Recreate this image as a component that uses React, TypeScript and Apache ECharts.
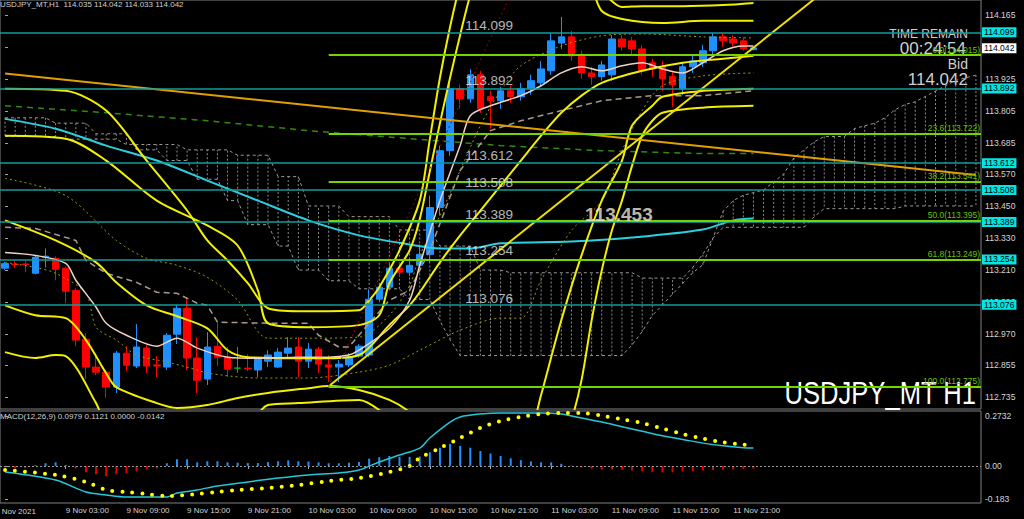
import React, { useEffect, useRef } from 'react';
import * as echarts from 'echarts';

const FONT = '"Liberation Sans", Arial, sans-serif';
const N = 97;

// ---- categories (hourly bars, starting 8 Nov 21:00) ----
const categories: string[] = [];
for (let i = 0; i < N; i++) {
  const t = 21 + i;
  const day = 8 + Math.floor(t / 24);
  const h = t % 24;
  categories.push(`${day} Nov ${String(h).padStart(2, '0')}:00`);
}
const firstLabel = '8 Nov 2021';

// ---- price axis ticks ----
const yTicks = [114.165, 114.045, 113.925, 113.805, 113.685, 113.57, 113.45, 113.33, 113.21, 113.09, 112.97, 112.855, 112.735];
const macdTicks = [0.2732, 0, -0.183];
const macdTickLabels = ['0.2732', '0.00', '-0.183'];

// ---- candles ----
const opens = [113.217, 113.232, 113.233, 113.198, 113.258, 113.254, 113.217, 113.134, 112.951, 112.847, 112.828, 112.772, 112.899, 112.851, 112.918, 112.855, 112.847, 112.970, 113.067, 112.881, 112.802, 112.925, 112.884, 112.843, 112.843, 112.836, 112.869, 112.847, 112.899, 112.922, 112.869, 112.914, 112.855, 112.847, 112.855, 112.888, 112.892, 113.101, 113.146, 113.217, 113.202, 113.228, 113.269, 113.444, 113.657, 113.889, 113.851, 113.941, 113.859, 113.844, 113.881, 113.859, 113.889, 113.911, 113.956, 114.060, 114.083, 114.012, 113.948, 113.934, 113.941, 114.075, 114.068, 114.038, 113.986, 113.971, 113.934, 113.889, 113.971, 113.986, 114.031, 114.083, 114.075, 114.068, 114.035];
const closes = [113.235, 113.230, 113.231, 113.258, 113.262, 113.213, 113.131, 112.948, 112.847, 112.828, 112.772, 112.899, 112.854, 112.922, 112.851, 112.851, 112.966, 113.067, 112.881, 112.798, 112.922, 112.884, 112.839, 112.843, 112.840, 112.877, 112.892, 112.903, 112.918, 112.869, 112.914, 112.858, 112.847, 112.858, 112.884, 112.925, 113.101, 113.146, 113.217, 113.202, 113.228, 113.269, 113.444, 113.657, 113.889, 113.851, 113.941, 113.814, 113.844, 113.881, 113.859, 113.889, 113.919, 113.963, 114.068, 114.083, 114.012, 113.948, 113.934, 113.978, 114.075, 114.046, 114.038, 113.956, 113.963, 113.926, 113.904, 113.971, 113.993, 114.031, 114.083, 114.068, 114.060, 114.038, 114.042];
const highs = [113.240, 113.246, 113.246, 113.265, 113.291, 113.261, 113.224, 113.142, 112.974, 112.888, 112.836, 112.907, 112.925, 113.008, 112.929, 112.888, 112.974, 113.078, 113.108, 112.959, 112.978, 113.011, 112.922, 112.922, 112.895, 112.884, 112.910, 112.918, 112.959, 112.959, 112.937, 112.922, 112.892, 112.873, 112.899, 112.933, 113.138, 113.161, 113.239, 113.239, 113.254, 113.306, 113.489, 113.676, 113.919, 113.904, 113.963, 113.956, 113.881, 113.896, 113.900, 113.911, 113.941, 113.993, 114.098, 114.158, 114.105, 114.031, 113.971, 113.993, 114.090, 114.090, 114.083, 114.053, 114.001, 113.993, 113.956, 113.986, 114.016, 114.053, 114.098, 114.098, 114.090, 114.083, 114.042];
const lows = [113.210, 113.217, 113.202, 113.194, 113.220, 113.172, 113.086, 112.925, 112.802, 112.817, 112.731, 112.750, 112.832, 112.843, 112.825, 112.810, 112.836, 112.933, 112.836, 112.750, 112.780, 112.851, 112.810, 112.825, 112.832, 112.810, 112.847, 112.843, 112.881, 112.810, 112.843, 112.825, 112.791, 112.791, 112.847, 112.881, 112.884, 113.090, 113.134, 113.187, 113.187, 113.217, 113.239, 113.414, 113.638, 113.814, 113.836, 113.799, 113.739, 113.814, 113.836, 113.844, 113.866, 113.896, 113.941, 114.038, 113.993, 113.926, 113.904, 113.919, 113.919, 114.031, 114.016, 113.941, 113.934, 113.881, 113.821, 113.866, 113.948, 113.971, 114.016, 114.046, 114.046, 114.031, 114.033];
const greenDoji = [23];

// ---- horizontal levels ----
const tealLevels = [114.099, 113.892, 113.612, 113.508, 113.389, 113.254, 113.076];
const fibValues = [114.015, 113.722, 113.541, 113.395, 113.249, 112.775];
const fibLabels = ['0.0(114.015)', '23.6(113.722)', '38.2(113.541)', '50.0(113.395)', '61.8(113.249)', '100.0(112.775)'];
const fibStart = 32;
const bidPrice = 114.042;
const markedPrice = 113.453;

// ---- indicator lines: [bar index, price] ----
const bbMid = [[0,113.396],[5,113.321],[9,113.239],[11,113.164],[14,113.078],[17,113.037],[20,112.992],[22,112.910],[24,112.884],[29,112.880],[32,112.880],[35,112.892],[38,113.004],[40,113.078],[41,113.127],[43,113.239],[45,113.340],[47,113.433],[49,113.526],[51,113.620],[53,113.713],[55,113.799],[57,113.863],[59,113.911],[63,113.956],[67,113.986],[71,114.001],[74,114.012]];
const bbUp2 = [[0,113.713],[6,113.702],[10,113.620],[15,113.470],[20,113.377],[23,113.302],[25,113.134],[26,113.011],[30,112.996],[35,113.004],[37,113.041],[38,113.161],[40,113.284],[41,113.40],[42,113.58],[43,113.76],[44,113.93],[45,114.09],[46,114.24],[47,114.35],[52,114.45],[57,114.33],[58,114.27],[59,114.18],[61,114.150],[65,114.135],[69,114.143],[74,114.143]];
const bbUp3 = [[0,113.889],[6,113.881],[10,113.807],[14,113.620],[18,113.433],[20,113.321],[22,113.246],[24,113.161],[26,113.067],[29,113.056],[35,113.060],[36,113.097],[37,113.146],[39,113.284],[41,113.47],[42,113.70],[43,113.93],[44,114.12],[45,114.28],[46,114.40],[52,114.50],[58,114.35],[59,114.26],[60,114.217],[61,114.195],[63,114.198],[67,114.198],[71,114.202],[74,114.210]];
const bbLow2 = [[0,113.078],[3,113.041],[6,113.030],[8,112.948],[10,112.824],[11,112.772],[15,112.712],[17,112.694],[20,112.705],[23,112.731],[26,112.750],[30,112.768],[32,112.776],[35,112.761],[38,112.724],[40,112.679],[42,112.611],[46,112.50],[50,112.50],[52,112.611],[53,112.742],[55,113.022],[57,113.265],[59,113.470],[61,113.620],[62,113.751],[64,113.825],[65,113.859],[69,113.881],[74,113.889]];
const bbLow3 = [[0,112.903],[3,112.881],[5,112.892],[6,112.888],[9,112.712],[10,112.630],[12,112.58],[20,112.58],[24,112.630],[26,112.705],[29,112.712],[35,112.724],[37,112.686],[39,112.611],[45,112.45],[54,112.45],[56,112.649],[57,112.798],[58,113.022],[59,113.209],[60,113.358],[61,113.470],[62,113.601],[63,113.713],[64,113.769],[65,113.799],[69,113.818],[74,113.825]];
const bbUp1 = [[0,113.553],[6,113.489],[11,113.321],[14,113.254],[17,113.228],[20,113.183],[23,113.097],[26,112.955],[30,112.955],[35,112.959],[38,113.041],[40,113.153],[41,113.265],[43,113.414],[45,113.583],[47,113.751],[49,113.881],[51,113.975],[55,114.049],[59,114.087],[63,114.094],[69,114.083],[74,114.079]];
const bbLow1 = [[0,113.239],[3,113.220],[5,113.198],[8,113.123],[9,112.996],[11,112.948],[13,112.892],[16,112.866],[19,112.836],[20,112.824],[25,112.806],[30,112.806],[35,112.828],[38,112.854],[41,112.910],[45,112.985],[49,113.030],[51,113.030],[53,113.172],[56,113.358],[59,113.470],[61,113.657],[63,113.807],[65,113.900],[69,113.937],[74,113.948]];
const maFast = [[0,113.276],[3,113.265],[6,113.235],[7,113.172],[9,113.071],[10,113.011],[12,112.966],[15,112.925],[17,112.955],[19,112.918],[22,112.884],[25,112.880],[29,112.884],[32,112.884],[34,112.892],[35,112.910],[38,112.992],[40,113.097],[41,113.228],[43,113.470],[45,113.676],[46,113.788],[48,113.825],[51,113.863],[53,113.900],[55,113.948],[57,113.971],[59,113.956],[61,113.975],[63,113.986],[65,113.963],[67,113.948],[69,113.986],[71,114.031],[73,114.049],[74,114.049]];
const maSlow = [[0,113.776],[5,113.739],[10,113.676],[15,113.620],[20,113.545],[25,113.470],[30,113.396],[35,113.340],[40,113.306],[43,113.291],[46,113.291],[49,113.310],[56,113.317],[62,113.332],[69,113.362],[72,113.396],[74,113.403]];
const maLong = [[0,113.825],[10,113.799],[20,113.769],[30,113.732],[40,113.702],[49,113.676],[59,113.657],[69,113.646],[74,113.646]];
const kijun = [[0,113.370],[3,113.366],[7,113.321],[8,113.246],[10,113.198],[13,113.164],[15,113.127],[17,113.123],[19,113.086],[20,113.078],[21,113.015],[26,113.011],[30,113.011],[31,112.966],[33,112.922],[34,112.922],[36,113.011],[38,113.097],[40,113.134],[42,113.284],[45,113.583],[48,113.732],[51,113.769],[55,113.807],[59,113.844],[64,113.863],[69,113.863],[74,113.881]];
const trendOrange = [[0,113.946],[96,113.566]];
const trendYellow = [[32,112.775],[80,114.224]];
const trendRed = [[32,112.775],[50,114.241]];

// ---- Ichimoku cloud spans (per bar, incl. future) ----
const spanA = [113.78,113.78,113.78,113.78,113.78,113.76,113.76,113.76,113.76,113.72,113.72,113.72,113.72,113.66,113.66,113.66,113.62,113.62,113.62,113.55,113.55,113.55,113.47,113.47,113.38,113.38,113.38,113.30,113.30,113.21,113.21,113.21,113.17,113.17,113.17,113.14,113.14,113.14,113.14,113.14,113.10,113.10,113.10,113.02,112.95,112.89,112.89,112.89,112.89,112.89,112.89,112.89,112.89,112.89,112.89,112.89,112.89,112.89,112.89,112.89,112.89,112.89,112.93,112.98,113.04,113.08,113.12,113.16,113.20,113.23,113.33,113.43,113.47,113.49,113.50,113.51,113.54,113.57,113.63,113.66,113.69,113.71,113.71,113.71,113.74,113.75,113.76,113.78,113.81,113.83,113.84,113.86,113.88,113.90,113.92,113.93,113.94];
const spanB = [113.71,113.71,113.71,113.71,113.71,113.71,113.70,113.70,113.70,113.70,113.70,113.70,113.68,113.68,113.68,113.68,113.68,113.68,113.66,113.66,113.66,113.66,113.66,113.64,113.64,113.64,113.64,113.56,113.56,113.56,113.45,113.45,113.45,113.45,113.41,113.41,113.41,113.41,113.41,113.36,113.36,113.36,113.36,113.30,113.30,113.30,113.30,113.21,113.21,113.21,113.20,113.20,113.20,113.20,113.20,113.20,113.20,113.20,113.20,113.20,113.20,113.20,113.20,113.18,113.18,113.18,113.18,113.18,113.22,113.27,113.33,113.37,113.37,113.37,113.37,113.37,113.37,113.37,113.37,113.37,113.41,113.44,113.44,113.44,113.44,113.44,113.44,113.44,113.44,113.45,113.45,113.45,113.45,113.45,113.45,113.45,113.45];

// ---- MACD ----
const macdHist = [-0.008,-0.013,-0.012,0.004,0.015,0.020,0.005,-0.013,-0.034,-0.045,-0.056,-0.045,-0.040,-0.029,-0.018,-0.013,0.015,0.037,0.037,0.020,0.026,0.026,0.020,0.018,0.016,0.016,0.021,0.026,0.031,0.026,0.024,0.020,0.015,0.015,0.018,0.022,0.040,0.048,0.055,0.050,0.050,0.052,0.075,0.100,0.120,0.110,0.100,0.082,0.068,0.055,0.042,0.032,0.025,0.020,0.020,0.012,0.002,-0.008,-0.015,-0.020,-0.018,-0.020,-0.024,-0.028,-0.032,-0.035,-0.034,-0.030,-0.027,-0.025,-0.022,-0.020,-0.018,-0.016,-0.014];
const macdMain = [[0,-0.033],[5,-0.077],[8,-0.142],[10,-0.158],[12,-0.169],[16,-0.169],[17,-0.148],[19,-0.131],[21,-0.109],[24,-0.087],[27,-0.066],[30,-0.049],[33,-0.038],[35,-0.022],[37,0.022],[39,0.060],[41,0.098],[42,0.153],[44,0.240],[45,0.268],[47,0.284],[49,0.290],[53,0.290],[55,0.284],[57,0.262],[59,0.240],[61,0.215],[63,0.190],[65,0.165],[67,0.145],[69,0.125],[71,0.110],[73,0.100],[74,0.098]];
const macdSignal = [[0,-0.022],[5,-0.049],[8,-0.087],[10,-0.131],[12,-0.142],[14,-0.153],[16,-0.164],[19,-0.153],[21,-0.142],[23,-0.131],[26,-0.120],[29,-0.104],[32,-0.082],[35,-0.066],[38,-0.033],[40,0.0],[41,0.044],[43,0.098],[45,0.153],[47,0.208],[49,0.246],[51,0.268],[53,0.284],[55,0.290],[57,0.290],[59,0.275],[61,0.255],[63,0.235],[65,0.205],[67,0.175],[69,0.150],[71,0.130],[73,0.117],[74,0.112]];

const BULL = '#1e90ff';
const BEAR = '#ff0000';
const YEL = '#f2f000';

function line(data: number[][], color: string, width: number, type: any = 'solid', extra: any = {}) {
  return {
    type: 'line', xAxisIndex: 1, yAxisIndex: 0, data, showSymbol: false, symbol: 'none', silent: true, z: 3,
    lineStyle: { color, width, type }, ...extra,
  };
}

function buildOption() {
  const candleData = opens.map((o, i) => {
    const item: any = { value: [o, closes[i], lows[i], highs[i]] };
    if (greenDoji.includes(i)) item.itemStyle = { color: '#00c000', color0: '#00c000', borderColor: '#00c000', borderColor0: '#00c000' };
    return item;
  });

  const tealMarks = tealLevels.map((v) => ({
    yAxis: v,
    lineStyle: { color: '#139c9c', width: 1.5, type: 'solid' },
    label: { show: true, position: 'end', distance: 1, formatter: v.toFixed(3), backgroundColor: '#00e5e5', color: '#000', padding: [1, 2, 0, 2], fontSize: 8.6, fontFamily: FONT },
  }));
  const bidMark = {
    yAxis: bidPrice,
    lineStyle: { color: 'rgba(0,0,0,0)', width: 0 },
    label: { show: true, position: 'end', distance: 1, formatter: bidPrice.toFixed(3), backgroundColor: '#ffffff', color: '#000', padding: [1, 2, 0, 2], fontSize: 8.6, fontFamily: FONT },
  };
  const fibMarks = fibValues.map((v, i) => [
    {
      coord: [fibStart, v],
      lineStyle: { color: '#74d400', width: 2, type: 'solid' },
      label: { show: true, position: 'insideEndTop', distance: 1, formatter: fibLabels[i], color: '#6cc000', fontSize: 8.5, fontFamily: FONT },
    },
    { coord: [N - 0.5, v] },
  ]);

  return {
    animation: false,
    backgroundColor: '#000',
    textStyle: { fontFamily: FONT },
    grid: [
      { left: -8.2, right: 43, top: -1, height: 410, show: true, borderColor: '#808080', borderWidth: 1, backgroundColor: 'transparent' },
      { left: -8.2, right: 43, top: 411, height: 92, show: true, borderColor: '#808080', borderWidth: 1, backgroundColor: 'transparent' },
    ],
    xAxis: [
      { type: 'category', gridIndex: 0, data: categories, boundaryGap: true, show: false },
      { type: 'value', gridIndex: 0, min: -0.5, max: N - 0.5, show: false },
      {
        type: 'category', gridIndex: 1, data: categories, boundaryGap: true,
        axisLine: { show: false },
        axisTick: { show: true, alignWithLabel: true, length: 3, interval: (i: number) => i % 6 === 0 && i > 0 && i <= 72, lineStyle: { color: '#a8a8a8' } },
        axisLabel: {
          interval: (i: number) => i % 6 === 0 && i > 0 && i <= 72,
          align: 'left', color: '#d4d4d4', fontSize: 8, margin: 3, fontFamily: FONT,
        },
        splitLine: { show: false },
      },
      { type: 'value', gridIndex: 1, min: -0.5, max: N - 0.5, show: false },
    ],
    yAxis: [
      {
        type: 'value', gridIndex: 0, position: 'right', min: 112.69, max: 114.221,
        splitLine: { show: false }, axisLine: { show: false },
        axisTick: { show: true, customValues: yTicks, length: 3, lineStyle: { color: '#a8a8a8' } },
        axisLabel: { customValues: yTicks, formatter: (v: number) => v.toFixed(3), color: '#d4d4d4', fontSize: 8.6, margin: 4, fontFamily: FONT },
      },
      {
        type: 'value', gridIndex: 1, position: 'right', min: -0.2022, max: 0.3005,
        splitLine: { show: false }, axisLine: { show: false },
        axisTick: { show: true, customValues: macdTicks, length: 3, lineStyle: { color: '#a8a8a8' } },
        axisLabel: { customValues: macdTicks, formatter: (v: number) => { const j = macdTicks.indexOf(v); return j >= 0 ? macdTickLabels[j] : ''; }, color: '#d4d4d4', fontSize: 8.6, margin: 4, fontFamily: FONT },
      },
    ],
    series: [
      {
        type: 'custom', xAxisIndex: 1, yAxisIndex: 0, clip: true, silent: true, z: 1,
        data: spanA.map((a, i) => [i, a, spanB[i]]),
        encode: { x: 0, y: [1, 2] },
        renderItem: (params: any, api: any) => {
          const p1 = api.coord([api.value(0), api.value(1)]);
          const p2 = api.coord([api.value(0), api.value(2)]);
          return { type: 'line', shape: { x1: p1[0], y1: p1[1], x2: p2[0], y2: p2[1] }, style: { stroke: '#8c8c8c', lineWidth: 1, lineDash: [2, 2] } };
        },
      },
      line(spanA.map((v, i) => [i, v]), '#9a9a9a', 1, [3, 3], { z: 1 }),
      line(spanB.map((v, i) => [i, v]), '#9a9a9a', 1, [3, 3], { z: 1 }),
      {
        type: 'candlestick', xAxisIndex: 0, yAxisIndex: 0, barWidth: 7, silent: true, z: 2,
        itemStyle: { color: BULL, color0: BEAR, borderColor: BULL, borderColor0: BEAR, borderWidth: 1 },
        data: candleData,
      },
      line(maLong, '#2f8a10', 1.5, [6, 5]),
      line(kijun, '#a89a8c', 1.5, [6, 4]),
      line(maSlow, '#2ccfe0', 2, 'solid', { smooth: 0.3 }),
      line(bbUp1, '#9a9a00', 1, [2, 3], { smooth: 0.3 }),
      line(bbLow1, '#9a9a00', 1, [2, 3], { smooth: 0.3 }),
      line(bbUp3, YEL, 2, 'solid', { smooth: 0.3 }),
      line(bbUp2, YEL, 2, 'solid', { smooth: 0.3 }),
      line(bbMid, YEL, 2, 'solid', { smooth: 0.3 }),
      line(bbLow2, YEL, 2, 'solid', { smooth: 0.3 }),
      line(bbLow3, YEL, 2, 'solid', { smooth: 0.3 }),
      line(maFast, '#f0d2c0', 1.5, 'solid', { smooth: 0.3 }),
      line(trendOrange, '#e0a000', 2),
      line(trendYellow, '#f0e000', 2),
      line(trendRed, '#a00000', 1, [2, 3]),
      {
        type: 'scatter', xAxisIndex: 1, yAxisIndex: 0, symbolSize: 1, silent: true, z: 6,
        itemStyle: { color: 'rgba(0,0,0,0)' },
        data: tealLevels.map((v) => [45.45, v]),
        label: { show: true, position: [1, 0], align: 'left', verticalAlign: 'bottom', formatter: (p: any) => p.value[1].toFixed(3), color: '#e6e6e6', fontSize: 13.5, fontFamily: FONT },
        markLine: { symbol: ['none', 'none'], silent: true, animation: false, data: [...tealMarks, bidMark, ...fibMarks] },
      },
      {
        type: 'scatter', xAxisIndex: 1, yAxisIndex: 0, symbolSize: 1, silent: true, z: 6,
        itemStyle: { color: 'rgba(0,0,0,0)' },
        data: [[57.4, markedPrice]],
        label: { show: true, position: [0, 0], align: 'left', verticalAlign: 'top', formatter: markedPrice.toFixed(3), color: '#f3ead6', fontSize: 19, fontWeight: 'bold', fontFamily: FONT },
      },
      {
        type: 'bar', xAxisIndex: 2, yAxisIndex: 1, barWidth: 2, silent: true, z: 2,
        data: macdHist,
        itemStyle: { color: (p: any) => (p.value >= 0 ? BULL : '#e00000') },
        markLine: { symbol: ['none', 'none'], silent: true, label: { show: false }, lineStyle: { color: '#9a9a9a', type: [2, 2], width: 1 }, data: [{ yAxis: 0 }] },
      },
      { type: 'line', xAxisIndex: 3, yAxisIndex: 1, data: macdMain, showSymbol: false, symbol: 'none', silent: true, smooth: 0.3, z: 3, lineStyle: { color: '#22c8d8', width: 1.5 } },
      { type: 'line', xAxisIndex: 3, yAxisIndex: 1, data: macdSignal, showSymbol: false, symbol: 'none', silent: true, smooth: 0.3, z: 4, lineStyle: { color: '#ffff00', width: 4, type: [0, 10], cap: 'round' } },
    ],
    graphic: [
      { type: 'text', x: 0, y: 0, silent: true, style: { text: 'USDJPY_MT,H1  114.035 114.042 114.033 114.042', fill: '#d0d0d0', font: `8px ${FONT}`, align: 'left', verticalAlign: 'top' } },
      { type: 'text', x: 0, y: 412, silent: true, style: { text: 'MACD(12,26,9) 0.0979 0.1121 0.0000 -0.0142', fill: '#d0d0d0', font: `8px ${FONT}`, align: 'left', verticalAlign: 'top' } },
      { type: 'text', x: -5, y: 507, silent: true, style: { text: firstLabel, fill: '#d4d4d4', font: `8px ${FONT}`, align: 'left', verticalAlign: 'top' } },
      { type: 'text', x: 968, y: 28, silent: true, style: { text: 'TIME REMAIN', fill: '#cfcfcf', font: `12px ${FONT}`, align: 'right', verticalAlign: 'top' } },
      { type: 'text', x: 966, y: 40, silent: true, style: { text: '00:24:54', fill: '#cfcfcf', font: `17px ${FONT}`, align: 'right', verticalAlign: 'top' } },
      { type: 'text', x: 968, y: 57, silent: true, style: { text: 'Bid', fill: '#cfcfcf', font: `14px ${FONT}`, align: 'right', verticalAlign: 'top' } },
      { type: 'text', x: 968, y: 71, silent: true, style: { text: '114.042', fill: '#cfcfcf', font: `17px ${FONT}`, align: 'right', verticalAlign: 'top' } },
      { type: 'text', x: 976, y: 377, scaleX: 0.8, silent: true, style: { text: 'USDJPY_MT H1', fill: '#ffffff', font: `32px ${FONT}`, align: 'right', verticalAlign: 'top' } },
    ],
  };
}

export default function App() {
  const ref = useRef<HTMLDivElement>(null);
  useEffect(() => {
    document.body.style.margin = '0';
    document.body.style.background = '#000';
    const chart = echarts.init(ref.current as HTMLDivElement, null, { renderer: 'svg' });
    chart.setOption(buildOption() as any);
    return () => chart.dispose();
  }, []);
  return <div ref={ref} style={{ width: 1024, height: 519, background: '#000' }} />;
}
